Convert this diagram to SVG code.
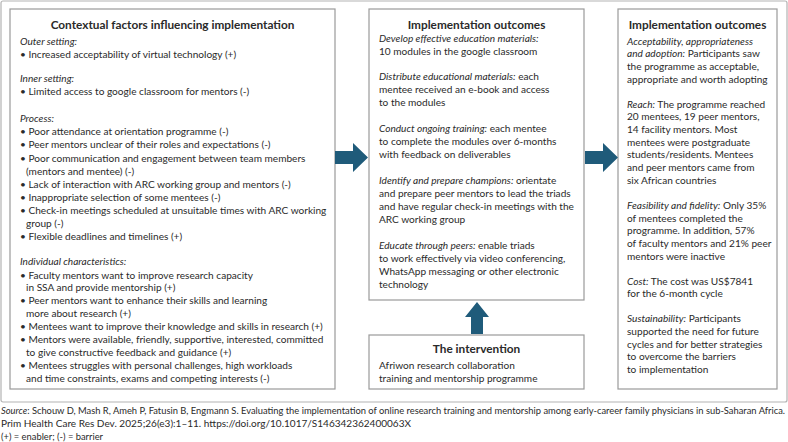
<svg xmlns="http://www.w3.org/2000/svg" width="788" height="442" viewBox="0 0 788 442">
<style>
  .frame{fill:#fff;stroke:#b3b3b3;stroke-width:1.2}
  .box{fill:#fff;stroke:#9a9a9a;stroke-width:1.2}
  text{font-family:Lato,"Open Sans","Liberation Sans",sans-serif;fill:#2a2a2a}
  .t{font-size:10.1px}
  .h{font-size:11.8px;font-weight:bold;text-anchor:middle}
  .i{font-style:italic}
  .s{font-size:8.9px}
  .arrow{fill:#1f5b7a}
</style>
<rect width="788" height="442" fill="#fff"/>
<rect class="frame" x="1" y="1" width="786" height="401" rx="2"/>

<g id="context">
  <rect class="box" x="10" y="9" width="325" height="380"/>
  <text class="h" x="172.5" y="29">Contextual factors influencing implementation</text>
  <text class="t">
    <tspan class="i" x="20" y="45">Outer setting:</tspan>
    <tspan x="20" y="58">• Increased acceptability of virtual technology (+)</tspan>
    <tspan class="i" x="20" y="82">Inner setting:</tspan>
    <tspan x="20" y="95">• Limited access to google classroom for mentors (-)</tspan>
    <tspan class="i" x="20" y="122">Process:</tspan>
    <tspan x="20" y="135">• Poor attendance at orientation programme (-)</tspan>
    <tspan x="20" y="148">• Peer mentors unclear of their roles and expectations (-)</tspan>
    <tspan x="20" y="162">• Poor communication and engagement between team members</tspan>
    <tspan x="26" y="175">(mentors and mentee) (-)</tspan>
    <tspan x="20" y="188">• Lack of interaction with ARC working group and mentors (-)</tspan>
    <tspan x="20" y="201">• Inappropriate selection of some mentees (-)</tspan>
    <tspan x="20" y="214">• Check-in meetings scheduled at unsuitable times with ARC working</tspan>
    <tspan x="26" y="227">group (-)</tspan>
    <tspan x="20" y="240">• Flexible deadlines and timelines (+)</tspan>
    <tspan class="i" x="20" y="265">Individual characteristics:</tspan>
    <tspan x="20" y="279">• Faculty mentors want to improve research capacity</tspan>
    <tspan x="26" y="291">in SSA and provide mentorship (+)</tspan>
    <tspan x="20" y="304">• Peer mentors want to enhance their skills and learning</tspan>
    <tspan x="26" y="317">more about research (+)</tspan>
    <tspan x="20" y="330">• Mentees want to improve their knowledge and skills in research (+)</tspan>
    <tspan x="20" y="343">• Mentors were available, friendly, supportive, interested, committed</tspan>
    <tspan x="26" y="356">to give constructive feedback and guidance (+)</tspan>
    <tspan x="20" y="369">• Mentees struggles with personal challenges, high workloads</tspan>
    <tspan x="26" y="382">and time constraints, exams and competing interests (-)</tspan>
  </text>
</g>

<g id="outcomes-mid">
  <rect class="box" x="369" y="9" width="215" height="291"/>
  <text class="h" x="476.5" y="29">Implementation outcomes</text>
  <text class="t">
    <tspan class="i" x="379" y="42">Develop effective education materials:</tspan>
    <tspan x="379" y="55">10 modules in the google classroom</tspan>
    <tspan class="i" x="379" y="80">Distribute educational materials:</tspan><tspan> each</tspan>
    <tspan x="379" y="93">mentee received an e-book and access</tspan>
    <tspan x="379" y="106">to the modules</tspan>
    <tspan class="i" x="379" y="132">Conduct ongoing training:</tspan><tspan> each mentee</tspan>
    <tspan x="379" y="145">to complete the modules over 6-months</tspan>
    <tspan x="379" y="158">with feedback on deliverables</tspan>
    <tspan class="i" x="379" y="184">Identify and prepare champions:</tspan><tspan> orientate</tspan>
    <tspan x="379" y="197">and prepare peer mentors to lead the triads</tspan>
    <tspan x="379" y="210">and have regular check-in meetings with the</tspan>
    <tspan x="379" y="223">ARC working group</tspan>
    <tspan class="i" x="379" y="249">Educate through peers:</tspan><tspan> enable triads</tspan>
    <tspan x="379" y="262">to work effectively via video conferencing,</tspan>
    <tspan x="379" y="275">WhatsApp messaging or other electronic</tspan>
    <tspan x="379" y="288">technology</tspan>
  </text>
</g>

<g id="intervention">
  <rect class="box" x="369" y="335" width="215" height="54"/>
  <text class="h" x="476.5" y="353">The intervention</text>
  <text class="t">
    <tspan x="379" y="369">Afriwon research collaboration</tspan>
    <tspan x="379" y="382">training and  mentorship programme</tspan>
  </text>
</g>

<g id="outcomes-right">
  <rect class="box" x="618" y="9" width="159" height="380"/>
  <text class="h" x="697.5" y="29">Implementation outcomes</text>
  <text class="t">
    <tspan class="i" x="627" y="44.5">Acceptability, appropriateness</tspan>
    <tspan class="i" x="627" y="57.2">and adoption:</tspan><tspan> Participants saw</tspan>
    <tspan x="627" y="69.9">the programme as acceptable,</tspan>
    <tspan x="627" y="82.6">appropriate and worth adopting</tspan>
    <tspan class="i" x="627" y="107.6">Reach:</tspan><tspan> The programme reached</tspan>
    <tspan x="627" y="120.3">20 mentees, 19 peer mentors,</tspan>
    <tspan x="627" y="133">14 facility mentors. Most</tspan>
    <tspan x="627" y="145.7">mentees were postgraduate</tspan>
    <tspan x="627" y="158.4">students/residents.  Mentees</tspan>
    <tspan x="627" y="171.1">and peer mentors came from</tspan>
    <tspan x="627" y="183.8">six African countries</tspan>
    <tspan class="i" x="627" y="208.8">Feasibility and fidelity:</tspan><tspan> Only 35%</tspan>
    <tspan x="627" y="221.5">of mentees completed the</tspan>
    <tspan x="627" y="234.2">programme. In addition, 57%</tspan>
    <tspan x="627" y="246.9">of faculty mentors and 21% peer</tspan>
    <tspan x="627" y="259.6">mentors were inactive</tspan>
    <tspan class="i" x="627" y="284.6">Cost:</tspan><tspan> The cost was US$7841</tspan>
    <tspan x="627" y="297.3">for the 6-month cycle</tspan>
    <tspan class="i" x="627" y="322.3">Sustainability:</tspan><tspan> Participants</tspan>
    <tspan x="627" y="335">supported the need for future</tspan>
    <tspan x="627" y="347.7">cycles and for better strategies</tspan>
    <tspan x="627" y="360.4">to overcome the barriers</tspan>
    <tspan x="627" y="373.1">to implementation</tspan>
  </text>
</g>

<g id="connectors">
  <polygon class="arrow" points="335,151 353,151 353,143 368,157.5 353,172 353,164 335,164"/>
  <polygon class="arrow" points="585,151 603,151 603,143 618,157.5 603,172 603,164 585,164"/>
  <polygon class="arrow" points="471,334 471,317 465,317 477,302 489,317 483,317 483,334"/>
</g>

<g id="source">
  <text class="s" textLength="784" lengthAdjust="spacingAndGlyphs"><tspan class="i" x="1" y="414">Source</tspan><tspan>: Schouw D, Mash R, Ameh P, Fatusin B, Engmann S. Evaluating the implementation of online research training and mentorship among early-career family physicians in sub-Saharan Africa.</tspan></text>
  <text class="s" x="1" y="427" textLength="410" lengthAdjust="spacingAndGlyphs">Prim Health Care Res Dev. 2025;26(e3):1–11. https://doi.org/10.1017/S146342362400063X</text>
  <text class="s" x="1" y="440" textLength="102" lengthAdjust="spacingAndGlyphs">(+) = enabler; (-) = barrier</text>
</g>
</svg>
